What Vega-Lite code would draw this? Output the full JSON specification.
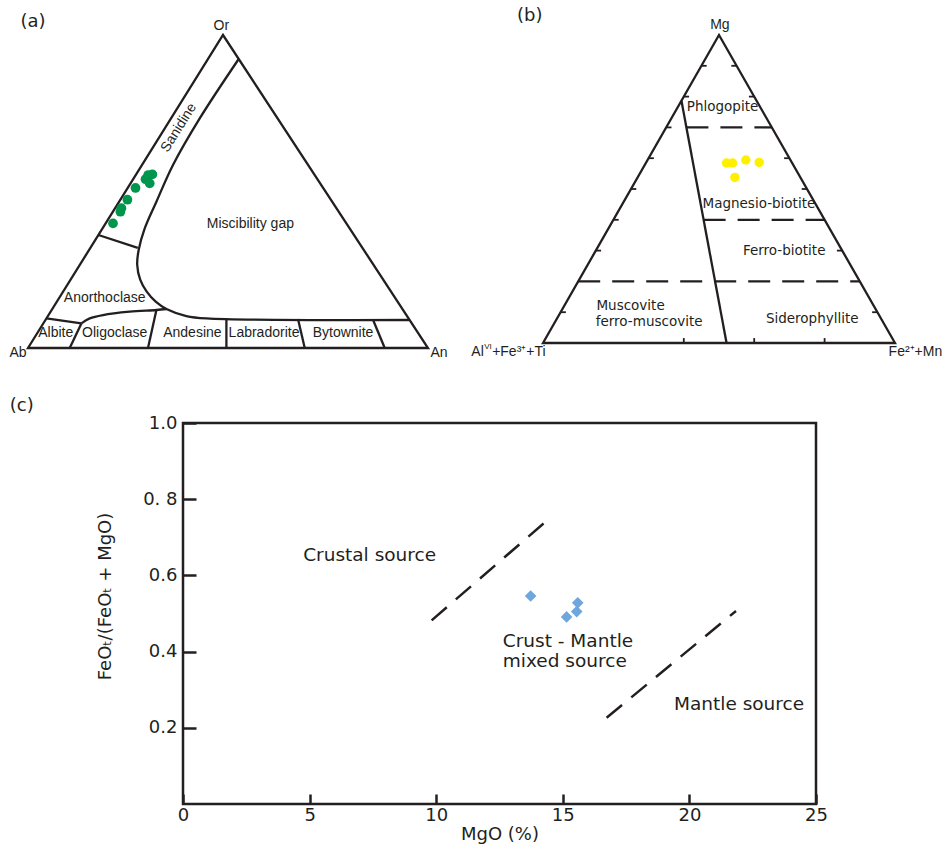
{
  "$schema": "https://vega.github.io/schema/vega-lite/v6.json",
  "background": "white",
  "padding": {"left": 8, "top": 6, "right": 2, "bottom": 2},
  "config": {"view": {"stroke": null}, "font": "Liberation Sans"},
  "datasets": {
    "aTriangle": [{"x": 0, "y": 0, "i": 0}, {"x": 48.75, "y": 100, "i": 1}, {"x": 100, "y": 0, "i": 2}, {"x": 0, "y": 0, "i": 3}, {"x": 48.75, "y": 100, "i": 4}],
    "aCurves": [
      {"g": "gap", "i": 1, "x": 52.68, "y": 92.33},
      {"g": "gap", "i": 2, "x": 42.93, "y": 73.35},
      {"g": "gap", "i": 3, "x": 36.25, "y": 58.47},
      {"g": "gap", "i": 4, "x": 32.1, "y": 46.74},
      {"g": "gap", "i": 5, "x": 29.18, "y": 38.21},
      {"g": "gap", "i": 6, "x": 27.68, "y": 31.41},
      {"g": "gap", "i": 7, "x": 27.3, "y": 26.61},
      {"g": "gap", "i": 8, "x": 28.05, "y": 21.82},
      {"g": "gap", "i": 9, "x": 29.68, "y": 17.99},
      {"g": "gap", "i": 10, "x": 31.93, "y": 14.79},
      {"g": "gap", "i": 11, "x": 34.6, "y": 12.46},
      {"g": "gap", "i": 12, "x": 39.6, "y": 10.22},
      {"g": "gap", "i": 13, "x": 44.6, "y": 9.46},
      {"g": "gap", "i": 14, "x": 95.41, "y": 8.95},
      {"g": "olig", "i": 1, "x": 13.35, "y": 7.86},
      {"g": "olig", "i": 2, "x": 15.43, "y": 9.46},
      {"g": "olig", "i": 3, "x": 18.75, "y": 10.54},
      {"g": "olig", "i": 4, "x": 25.43, "y": 11.6},
      {"g": "olig", "i": 5, "x": 32.1, "y": 12.14},
      {"g": "olig", "i": 6, "x": 34.6, "y": 12.46}
    ],
    "aSegs": [
      {"x": 17.6, "y": 36.1, "x2": 27.45, "y2": 32.0},
      {"x": 4.6, "y": 9.46, "x2": 13.35, "y2": 7.86},
      {"x": 13.35, "y": 7.86, "x2": 10.43, "y2": 0},
      {"x": 32.1, "y": 12.14, "x2": 30.0, "y2": 0},
      {"x": 49.6, "y": 9.4, "x2": 49.6, "y2": 0},
      {"x": 67.5, "y": 9.23, "x2": 69.18, "y2": 0},
      {"x": 86.25, "y": 9.04, "x2": 89.18, "y2": 0}
    ],
    "aDots": [
      {"x": 21.25, "y": 39.81}, {"x": 23.1, "y": 43.55}, {"x": 23.35, "y": 44.66},
      {"x": 24.85, "y": 47.38}, {"x": 26.88, "y": 51.12}, {"x": 29.38, "y": 53.93},
      {"x": 30.05, "y": 55.27}, {"x": 30.43, "y": 52.59}, {"x": 31.1, "y": 55.46}
    ],
    "aLabels": [
      {"t": "Or", "x": 48.35, "y": 102.96},
      {"t": "Ab", "x": -2.5, "y": -1.73},
      {"t": "An", "x": 102.75, "y": -1.73},
      {"t": "Miscibility gap", "x": 55.6, "y": 39.5},
      {"t": "Anorthoclase", "x": 19.18, "y": 15.85},
      {"t": "Albite", "x": 6.93, "y": 4.66},
      {"t": "Oligoclase", "x": 21.68, "y": 4.66},
      {"t": "Andesine", "x": 41.1, "y": 4.89},
      {"t": "Labradorite", "x": 59.0, "y": 4.66},
      {"t": "Bytownite", "x": 78.75, "y": 4.66}
    ],
    "aSanidine": [{"t": "Sanidine", "x": 37.68, "y": 70.38}],
    "aLetter": [{"t": "(a)", "x": 1.25, "y": 104.0}],
    "bTriangle": [{"x": 0, "y": 0, "i": 0}, {"x": 50, "y": 100, "i": 1}, {"x": 100, "y": 0, "i": 2}, {"x": 0, "y": 0, "i": 3}, {"x": 50, "y": 100, "i": 4}],
    "bSolid": [{"x": 39.33, "y": 78.67, "x2": 52.15, "y2": 0}],
    "bDashed": [
      {"x": 40.74, "y": 70, "x2": 65, "y2": 70},
      {"x": 45.63, "y": 40, "x2": 80, "y2": 40},
      {"x": 10, "y": 20, "x2": 90, "y2": 20}
    ],
    "bTicks": [
      {"x": 45, "y": 90, "x2": 46.5, "y2": 90}, {"x": 40, "y": 80, "x2": 41.5, "y2": 80},
      {"x": 35, "y": 70, "x2": 36.5, "y2": 70}, {"x": 30, "y": 60, "x2": 31.5, "y2": 60},
      {"x": 25, "y": 50, "x2": 26.5, "y2": 50}, {"x": 20, "y": 40, "x2": 21.5, "y2": 40},
      {"x": 15, "y": 30, "x2": 16.5, "y2": 30}, {"x": 5, "y": 10, "x2": 6.5, "y2": 10},
      {"x": 55, "y": 90, "x2": 53.5, "y2": 90}, {"x": 60, "y": 80, "x2": 58.5, "y2": 80},
      {"x": 70, "y": 60, "x2": 68.5, "y2": 60}, {"x": 75, "y": 50, "x2": 73.5, "y2": 50},
      {"x": 85, "y": 30, "x2": 83.5, "y2": 30}, {"x": 95, "y": 10, "x2": 93.5, "y2": 10},
      {"x": 40, "y": 0, "x2": 40, "y2": 1.6}, {"x": 60, "y": 0, "x2": 60, "y2": 1.6},
      {"x": 80, "y": 0, "x2": 80, "y2": 1.6}
    ],
    "bDots": [
      {"x": 52.15, "y": 58.44}, {"x": 53.85, "y": 58.44}, {"x": 57.63, "y": 59.42},
      {"x": 61.42, "y": 58.64}, {"x": 54.51, "y": 53.77}
    ],
    "bVertex": [
      {"t": "Mg", "x": 50.24, "y": 103.35},
      {"t": "Fe²⁺+Mn", "x": 105.8, "y": -3.05}
    ],
    "bVertexLeft": [
      {"t": "Al", "x": -20.36, "y": -3.05},
      {"t": "+Fe³⁺+Ti", "x": -14.45, "y": -3.05}
    ],
    "bVertexSup": [
      {"t": "VI", "x": -16.71, "y": -1.36}
    ],
    "bRegions": [
      {"t": "Phlogopite", "x": 51.0, "y": 76.5},
      {"t": "Magnesio-biotite", "x": 61.33, "y": 45.13},
      {"t": "Ferro-biotite", "x": 68.52, "y": 29.97},
      {"t": "Siderophyllite", "x": 76.49, "y": 7.79}
    ],
    "bRegionsLeft": [
      {"t": "Muscovite", "x": 15.18, "y": 12.11},
      {"t": "ferro-muscovite", "x": 14.98, "y": 6.69}
    ],
    "bLetter": [{"t": "(b)", "x": -3.78, "y": 106.27}],
    "cDashed": [
      {"x": 9.82, "y": 0.482, "x2": 14.53, "y2": 0.753},
      {"x": 16.73, "y": 0.2265, "x2": 21.84, "y2": 0.5066}
    ],
    "cPoints": [
      {"x": 13.73, "y": 0.546}, {"x": 15.15, "y": 0.491},
      {"x": 15.55, "y": 0.505}, {"x": 15.59, "y": 0.528}
    ],
    "cLabels": [
      {"t": "Crustal source", "x": 7.37, "y": 0.653},
      {"t": "Mantle source", "x": 21.96, "y": 0.2625}
    ],
    "cLabelsLeft": [
      {"t": "Crust - Mantle", "x": 12.63, "y": 0.4286},
      {"t": "mixed source", "x": 12.63, "y": 0.376}
    ],
    "cLetter": [{"t": "(c)", "x": -6.84, "y": 1.0446}]
  },
  "columns": 1,
  "align": "none",
  "spacing": {"row": 34, "column": 0},
  "concat": [
    {
      "hconcat": [
        {
          "width": 245,
          "height": 313,
          "encoding": {
            "x": {"field": "x", "type": "quantitative", "scale": {"domain": [38.75, 100], "nice": false, "zero": false}, "axis": null},
            "y": {"field": "y", "type": "quantitative", "scale": {"domain": [0, 100], "nice": false, "zero": false}, "axis": null}
          },
          "layer": [
            {"data": {"name": "aTriangle"}, "mark": {"type": "line", "color": "#231f20", "strokeWidth": 2.3, "strokeJoin": "miter", "clip": false}, "encoding": {"order": {"field": "i", "type": "quantitative"}}},
            {"data": {"name": "aCurves"}, "mark": {"type": "line", "color": "#231f20", "strokeWidth": 2.3, "interpolate": "catmull-rom", "clip": false}, "encoding": {"order": {"field": "i", "type": "quantitative"}, "detail": {"field": "g", "type": "nominal"}}},
            {"data": {"name": "aSegs"}, "mark": {"type": "rule", "color": "#231f20", "strokeWidth": 2.3, "clip": false}, "encoding": {"x2": {"field": "x2"}, "y2": {"field": "y2"}}},
            {"data": {"name": "aDots"}, "mark": {"type": "point", "filled": true, "size": 95, "color": "#00964b", "opacity": 1, "clip": false}},
            {"data": {"name": "aLabels"}, "mark": {"type": "text", "font": "Liberation Sans", "fontSize": 14, "color": "#231f20", "baseline": "middle", "clip": false}, "encoding": {"text": {"field": "t"}}},
            {"data": {"name": "aSanidine"}, "mark": {"type": "text", "font": "Liberation Sans", "fontSize": 14, "color": "#231f20", "baseline": "middle", "angle": -58, "clip": false}, "encoding": {"text": {"field": "t"}}},
            {"data": {"name": "aLetter"}, "mark": {"type": "text", "font": "DejaVu Sans", "fontSize": 18, "color": "#231f20", "baseline": "middle", "clip": false}, "encoding": {"text": {"field": "t"}}}
          ]
        },
        {
          "width": 352,
          "height": 308,
          "encoding": {
            "x": {"field": "x", "type": "quantitative", "scale": {"domain": [0, 100], "nice": false, "zero": false}, "axis": null},
            "y": {"field": "y", "type": "quantitative", "scale": {"domain": [0, 100], "nice": false, "zero": false}, "axis": null}
          },
          "layer": [
            {"data": {"name": "bTriangle"}, "mark": {"type": "line", "color": "#231f20", "strokeWidth": 2.3, "strokeJoin": "miter"}, "encoding": {"order": {"field": "i", "type": "quantitative"}}},
            {"data": {"name": "bSolid"}, "mark": {"type": "rule", "color": "#231f20", "strokeWidth": 2.3}, "encoding": {"x2": {"field": "x2"}, "y2": {"field": "y2"}}},
            {"data": {"name": "bDashed"}, "mark": {"type": "rule", "color": "#231f20", "strokeWidth": 2.3, "strokeDash": [22, 12]}, "encoding": {"x2": {"field": "x2"}, "y2": {"field": "y2"}}},
            {"data": {"name": "bTicks"}, "mark": {"type": "rule", "color": "#231f20", "strokeWidth": 1.8}, "encoding": {"x2": {"field": "x2"}, "y2": {"field": "y2"}}},
            {"data": {"name": "bDots"}, "mark": {"type": "point", "filled": true, "size": 90, "color": "#fff000", "opacity": 1}},
            {"data": {"name": "bVertex"}, "mark": {"type": "text", "font": "Liberation Sans", "fontSize": 14, "color": "#231f20", "baseline": "middle"}, "encoding": {"text": {"field": "t"}}},
            {"data": {"name": "bVertexLeft"}, "mark": {"type": "text", "font": "Liberation Sans", "fontSize": 14, "color": "#231f20", "baseline": "middle", "align": "left"}, "encoding": {"text": {"field": "t"}}},
            {"data": {"name": "bVertexSup"}, "mark": {"type": "text", "font": "Liberation Sans", "fontSize": 8, "color": "#231f20", "baseline": "middle", "align": "left"}, "encoding": {"text": {"field": "t"}}},
            {"data": {"name": "bRegions"}, "mark": {"type": "text", "font": "DejaVu Sans", "fontSize": 13.5, "color": "#231f20", "baseline": "middle"}, "encoding": {"text": {"field": "t"}}},
            {"data": {"name": "bRegionsLeft"}, "mark": {"type": "text", "font": "DejaVu Sans", "fontSize": 13.5, "color": "#231f20", "baseline": "middle", "align": "left"}, "encoding": {"text": {"field": "t"}}},
            {"data": {"name": "bLetter"}, "mark": {"type": "text", "font": "DejaVu Sans", "fontSize": 18, "color": "#231f20", "baseline": "middle"}, "encoding": {"text": {"field": "t"}}}
          ]
        }
      ],
      "spacing": 115,
      "bounds": "flush"
    },
    {
      "width": 633,
      "height": 381,
      "view": {"stroke": "#231f20", "strokeWidth": 2.5},
      "encoding": {
        "x": {
          "field": "x", "type": "quantitative",
          "scale": {"domain": [0, 25], "nice": false, "zero": false},
          "axis": {
            "title": "MgO (%)", "values": [0, 5, 10, 15, 20, 25], "format": "d",
            "domain": false, "grid": false, "labelFlush": false,
            "tickSize": -10, "tickWidth": 2.5, "tickColor": "#231f20",
            "labelFont": "DejaVu Sans", "labelFontSize": 18, "labelColor": "#231f20", "labelPadding": 12,
            "titleFont": "DejaVu Sans", "titleFontSize": 18, "titleFontWeight": "normal", "titleColor": "#231f20",
            "titleY": 30, "titleBaseline": "middle"
          }
        },
        "y": {
          "field": "y", "type": "quantitative",
          "scale": {"domain": [0, 1], "nice": false, "zero": false},
          "axis": {
            "title": "FeOₜ/(FeOₜ + MgO)", "values": [0.2, 0.4, 0.6, 0.8, 1.0],
            "labelExpr": "abs(datum.value - 0.8) < 0.001 ? '0. 8' : format(datum.value, '.1f')",
            "domain": false, "grid": false,
            "tickSize": -13, "tickWidth": 2.5, "tickColor": "#231f20",
            "labelFont": "DejaVu Sans", "labelFontSize": 18, "labelColor": "#231f20", "labelPadding": 19,
            "titleFont": "DejaVu Sans", "titleFontSize": 18, "titleFontWeight": "normal", "titleColor": "#231f20",
            "titleX": -78, "titleY": 173, "titleAngle": -90, "titleAlign": "center", "titleBaseline": "middle"
          }
        }
      },
      "layer": [
        {"data": {"name": "cDashed"}, "mark": {"type": "rule", "color": "#231f20", "strokeWidth": 2.5, "strokeDash": [20, 12]}, "encoding": {"x2": {"field": "x2"}, "y2": {"field": "y2"}}},
        {"data": {"name": "cPoints"}, "mark": {"type": "point", "shape": "diamond", "filled": true, "size": 135, "color": "#6fa6dc", "opacity": 1}},
        {"data": {"name": "cLabels"}, "mark": {"type": "text", "font": "DejaVu Sans", "fontSize": 18.5, "color": "#231f20", "baseline": "middle"}, "encoding": {"text": {"field": "t"}}},
        {"data": {"name": "cLabelsLeft"}, "mark": {"type": "text", "font": "DejaVu Sans", "fontSize": 18.5, "color": "#231f20", "baseline": "middle", "align": "left"}, "encoding": {"text": {"field": "t"}}},
        {"data": {"name": "cLetter"}, "mark": {"type": "text", "font": "DejaVu Sans", "fontSize": 18, "color": "#231f20", "baseline": "middle", "align": "left", "clip": false}, "encoding": {"text": {"field": "t"}}}
      ]
    }
  ]
}
